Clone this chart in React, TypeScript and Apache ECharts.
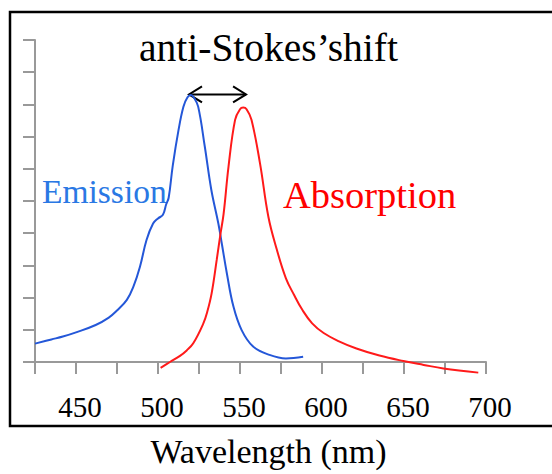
import React, { useEffect, useRef } from "react";
import * as echarts from "echarts";

const xTicks = [425, 700, 25];
const emission: [number, number][] = [
  [425, 0.57], [435, 0.7], [442, 0.79], [450, 0.92], [462, 1.15], [470, 1.38], [475, 1.6],
  [481, 1.93], [485, 2.34], [489, 2.96], [493, 3.79], [497, 4.3], [500, 4.46], [503, 4.57],
  [505, 4.9], [506.5, 5.1], [509, 6.1], [512.5, 7.2], [515.5, 7.93], [518, 8.22], [520, 8.29],
  [522, 8.2], [524.5, 7.93], [528.5, 6.7], [532.5, 5.35], [536.8, 4.3], [539, 3.65], [542, 2.75],
  [546, 1.72], [551, 0.99], [558, 0.48], [568, 0.22], [578, 0.11], [588.5, 0.16],
];
const absorption: [number, number][] = [
  [501.6, -0.18], [507.3, 0], [513.4, 0.19], [517.5, 0.36], [521.5, 0.58], [527.6, 1.19],
  [530, 1.55], [532.7, 2.13], [535.8, 3.17], [538, 3.95], [540, 4.6], [543, 6.07], [547, 7.52],
  [550, 7.85], [552, 7.9], [554, 7.85], [557, 7.52], [562.2, 6.17], [567.3, 4.51], [572.4, 3.5],
  [578, 2.6], [583, 2.08], [588, 1.62], [594, 1.2], [601, 0.9], [610, 0.65], [621, 0.42], [635, 0.2],
  [649.6, 0.03], [662, -0.09], [674, -0.2], [695.3, -0.33],
];
const shiftArrow: [number, number, number][] = [[518.9, 553.7, 8.31]];

const SERIF = "'Liberation Serif', 'DejaVu Serif', serif";

export default function App() {
  const ref = useRef<HTMLDivElement>(null);
  useEffect(() => {
    if (!ref.current) return;
    const chart = echarts.init(ref.current, undefined, { renderer: "svg" });
    chart.setOption({
      animation: false,
      backgroundColor: "#ffffff",
      title: {
        text: "anti-Stokes\u2019shift",
        left: 139,
        top: 28,
        padding: 0,
        textStyle: { fontFamily: SERIF, fontSize: 39.5, fontWeight: "normal", color: "#000" },
      },
      grid: { left: 35, right: 66, top: 40, bottom: 112 },
      xAxis: {
        type: "value",
        min: xTicks[0],
        max: xTicks[1],
        interval: xTicks[2],
        name: "Wavelength (nm)",
        nameLocation: "middle",
        nameGap: 72,
        nameTextStyle: { fontFamily: SERIF, fontSize: 34, color: "#000", padding: [0, 0, 0, 16] },
        axisLine: { lineStyle: { color: "#999", width: 2 } },
        axisTick: { length: 12, lineStyle: { color: "#999", width: 2 } },
        axisLabel: {
          margin: 30,
          fontFamily: SERIF,
          fontSize: 29,
          color: "#000",
          padding: [0, 0, 0, 8],
          formatter: (v: number) => (v % 50 === 0 ? String(v) : ""),
        },
        splitLine: { show: false },
      },
      yAxis: {
        type: "value",
        min: 0,
        max: 10,
        interval: 1,
        axisLine: { show: true, lineStyle: { color: "#999", width: 2 } },
        axisTick: { show: true, length: 12, lineStyle: { color: "#999", width: 2 } },
        axisLabel: { show: false },
        splitLine: { show: false },
      },
      graphic: [
        {
          type: "rect",
          shape: { x: 10, y: 12, width: 580, height: 414 },
          style: { fill: "none", stroke: "#000", lineWidth: 2.5 },
          silent: true,
        },
        {
          type: "text",
          left: 42,
          top: 174,
          style: { text: "Emission", font: `33.5px ${SERIF}`, fill: "#2a78e4" },
        },
        {
          type: "text",
          left: 283,
          top: 175,
          style: { text: "Absorption", font: `38.5px ${SERIF}`, fill: "#ff0000" },
        },
      ],
      series: [
        {
          name: "Emission",
          type: "line",
          data: emission,
          smooth: 0.4,
          showSymbol: false,
          clip: false,
          lineStyle: { color: "#2457d8", width: 2 },
        },
        {
          name: "Absorption",
          type: "line",
          data: absorption,
          smooth: 0.4,
          showSymbol: false,
          clip: false,
          lineStyle: { color: "#ff1a1a", width: 2 },
        },
        {
          name: "shift",
          type: "custom",
          data: shiftArrow,
          encode: { x: [0, 1], y: 2 },
          clip: false,
          renderItem: (params: any, api: any) => {
            const a = api.coord([api.value(0), api.value(2)]);
            const b = api.coord([api.value(1), api.value(2)]);
            const st = { stroke: "#000", lineWidth: 2, fill: "none" };
            return {
              type: "group",
              children: [
                { type: "line", shape: { x1: a[0], y1: a[1], x2: b[0], y2: b[1] }, style: st },
                {
                  type: "polyline",
                  shape: { points: [[a[0] + 13, a[1] - 8], [a[0], a[1]], [a[0] + 13, a[1] + 8]] },
                  style: st,
                },
                {
                  type: "polyline",
                  shape: { points: [[b[0] - 13, b[1] - 8], [b[0], b[1]], [b[0] - 13, b[1] + 8]] },
                  style: st,
                },
              ],
            };
          },
        },
      ],
    });
    return () => chart.dispose();
  }, []);
  return (
    <div
      ref={ref}
      style={{ position: "absolute", left: 0, top: 0, width: 552, height: 474 }}
    />
  );
}
